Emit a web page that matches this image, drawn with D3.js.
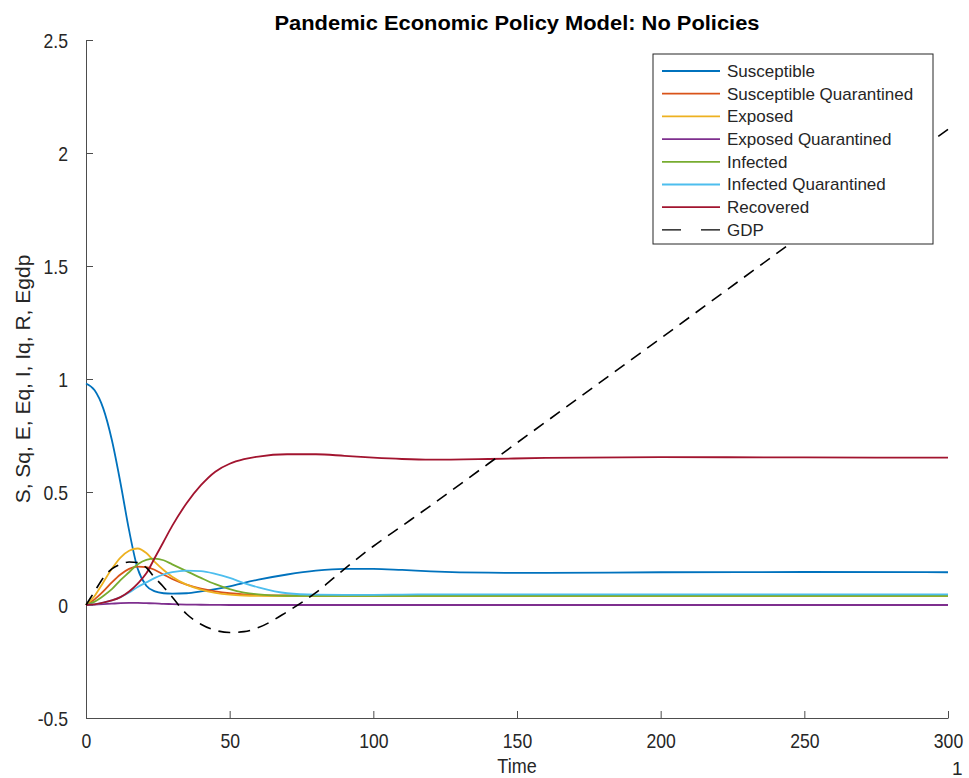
<!DOCTYPE html>
<html>
<head>
<meta charset="utf-8">
<script src="https://cdn.jsdelivr.net/npm/d3@7"></script>
<style>
  html, body { margin: 0; padding: 0; background: #fff; }
  svg { display: block; font-family: "Liberation Sans", Arial, Helvetica, sans-serif; }
</style>
</head>
<body>
<svg id="chart" width="969" height="778"></svg>
<script>
// Simulation output sampled at these times
const time = [0, 3, 6, 9, 12, 15, 18, 21, 24, 27, 30, 35, 40, 45, 50, 55, 60, 70, 80, 90, 100, 110, 120, 140, 160, 200, 250, 300];

const susceptible = [0.98, 0.95, 0.87, 0.73, 0.54, 0.33, 0.16, 0.085, 0.06, 0.052, 0.05, 0.052, 0.06, 0.07, 0.082, 0.098, 0.112, 0.135, 0.152, 0.16, 0.16, 0.155, 0.149, 0.143, 0.142, 0.145, 0.146, 0.145];
const suscQuarantined = [0, 0.025, 0.06, 0.1, 0.135, 0.16, 0.17, 0.168, 0.155, 0.135, 0.115, 0.09, 0.072, 0.06, 0.052, 0.047, 0.044, 0.042, 0.041, 0.04, 0.04, 0.04, 0.04, 0.04, 0.04, 0.04, 0.04, 0.04];
const exposed = [0, 0.04, 0.1, 0.16, 0.21, 0.24, 0.25, 0.23, 0.19, 0.155, 0.125, 0.09, 0.068, 0.054, 0.046, 0.042, 0.04, 0.039, 0.039, 0.039, 0.039, 0.039, 0.039, 0.039, 0.039, 0.039, 0.039, 0.039];
const exposedQuarantined = [0, 0.002, 0.004, 0.006, 0.008, 0.009, 0.009, 0.008, 0.007, 0.005, 0.004, 0.002, 0.001, 0.0005, 0, 0, 0, 0, 0, 0, 0, 0, 0, 0, 0, 0, 0, 0];
const infected = [0, 0.015, 0.04, 0.07, 0.11, 0.145, 0.18, 0.2, 0.205, 0.198, 0.18, 0.15, 0.12, 0.092, 0.07, 0.055, 0.047, 0.041, 0.04, 0.04, 0.04, 0.04, 0.04, 0.04, 0.04, 0.04, 0.04, 0.04];
const infectedQuarantined = [0, 0.003, 0.01, 0.02, 0.035, 0.055, 0.08, 0.1, 0.12, 0.135, 0.145, 0.152, 0.15, 0.138, 0.12, 0.097, 0.078, 0.052, 0.046, 0.045, 0.045, 0.046, 0.047, 0.047, 0.047, 0.047, 0.047, 0.047];
const recovered = [0, 0.003, 0.01, 0.02, 0.035, 0.06, 0.095, 0.14, 0.21, 0.28, 0.35, 0.45, 0.53, 0.59, 0.625, 0.645, 0.657, 0.667, 0.667, 0.66, 0.652, 0.646, 0.643, 0.646, 0.651, 0.654, 0.653, 0.652];
const gdp = [0, 0.06, 0.12, 0.16, 0.18, 0.19, 0.188, 0.165, 0.12, 0.08, 0.035, -0.04, -0.085, -0.112, -0.122, -0.118, -0.1, -0.03, 0.055, 0.16, 0.26, 0.35, 0.44, 0.625, 0.81, 1.18, 1.645, 2.105];

const seriesNames = ["Susceptible", "Susceptible Quarantined", "Exposed", "Exposed Quarantined", "Infected", "Infected Quarantined", "Recovered", "GDP"];
const seriesColors = ["#0072BD", "#D95319", "#EDB120", "#7E2F8E", "#77AC30", "#4DBEEE", "#A2142F", "#000000"];
const xTicks = [0, 50, 100, 150, 200, 250, 300];
const yTicks = [-0.5, 0, 0.5, 1, 1.5, 2, 2.5];

const seriesValues = [susceptible, suscQuarantined, exposed, exposedQuarantined, infected, infectedQuarantined, recovered, gdp];

const svg = d3.select("#chart");
const plotLeft = 86, plotRight = 948, plotTop = 40, plotBottom = 718;

const x = d3.scaleLinear().domain([0, 300]).range([plotLeft, plotRight]);
const y = d3.scaleLinear().domain([-0.5, 2.5]).range([plotBottom, plotTop]);

// Condense tick text horizontally around its anchor
function condense(sel, k) {
  sel.selectAll(".tick text").each(function () {
    const t = d3.select(this);
    const tx = +t.attr("x") || 0;
    t.attr("x", 0).attr("transform", `translate(${tx},0) scale(${k},1)`);
  });
}

// Axes (ticks inward, no box)
const xAxis = svg.append("g")
  .attr("transform", `translate(0,${plotBottom})`)
  .call(d3.axisBottom(x).tickValues(xTicks).tickSizeInner(-7).tickSizeOuter(0).tickPadding(16).tickFormat(d3.format("d")));
const yAxis = svg.append("g")
  .attr("transform", `translate(${plotLeft},0)`)
  .call(d3.axisLeft(y).tickValues(yTicks).tickSizeInner(-7).tickSizeOuter(0).tickPadding(18).tickFormat(d => String(d)));

[xAxis, yAxis].forEach(a => {
  a.select(".domain").attr("stroke", "#4d4d4d").attr("stroke-width", 1);
  a.selectAll(".tick line").attr("stroke", "#4d4d4d").attr("stroke-width", 1);
  a.selectAll(".tick text").attr("fill", "#262626").attr("font-size", 20)
    .attr("font-family", "Liberation Sans, Arial, sans-serif");
  condense(a, 0.88);
});
yAxis.selectAll(".tick text").attr("dy", "0.35em");

// Series lines
const line = d3.line()
  .x((d, i) => x(time[i]))
  .y(d => y(d))
  .curve(d3.curveMonotoneX);

const plot = svg.append("g");
seriesValues.forEach((vals, k) => {
  plot.append("path")
    .datum(vals)
    .attr("d", line)
    .attr("fill", "none")
    .attr("stroke", seriesColors[k])
    .attr("stroke-width", k === 7 ? 1.6 : 1.8)
    .attr("stroke-dasharray", k === 7 ? "12,8" : null);
});

// Title
svg.append("text")
  .attr("x", 517).attr("y", 30)
  .attr("text-anchor", "middle")
  .attr("font-size", 20).attr("font-weight", "bold")
  .attr("fill", "#000")
  .attr("textLength", 485).attr("lengthAdjust", "spacingAndGlyphs")
  .text("Pandemic Economic Policy Model: No Policies");

// Axis labels
svg.append("text")
  .attr("x", 517).attr("y", 773)
  .attr("text-anchor", "middle")
  .attr("font-size", 20).attr("fill", "#262626")
  .attr("transform", "translate(517,0) scale(0.9,1) translate(-517,0)")
  .text("Time");

svg.append("text")
  .attr("transform", `translate(30,${(plotTop + plotBottom) / 2}) rotate(-90)`)
  .attr("text-anchor", "middle")
  .attr("font-size", 21).attr("fill", "#262626")
  .text("S, Sq, E, Eq, I, Iq, R, Egdp");

svg.append("text")
  .attr("x", 952).attr("y", 775)
  .attr("font-size", 19).attr("fill", "#262626")
  .text("1");

// Legend
const legend = svg.append("g");
const lx = 653, ly = 54, lw = 280, lh = 190, rowH = 22.7;
legend.append("rect")
  .attr("x", lx).attr("y", ly).attr("width", lw).attr("height", lh)
  .attr("fill", "#fff").attr("stroke", "#262626").attr("stroke-width", 1);
seriesNames.forEach((name, k) => {
  const cy = ly + 17 + k * rowH;
  legend.append("line")
    .attr("x1", lx + 9).attr("x2", lx + 67)
    .attr("y1", cy).attr("y2", cy)
    .attr("stroke", seriesColors[k])
    .attr("stroke-width", k === 7 ? 1.4 : 1.8)
    .attr("stroke-dasharray", k === 7 ? "19,20" : null);
  legend.append("text")
    .attr("x", lx + 74).attr("y", cy)
    .attr("dy", "0.35em")
    .attr("font-size", 17).attr("fill", "#262626")
    .text(name);
});
</script>
</body>
</html>
